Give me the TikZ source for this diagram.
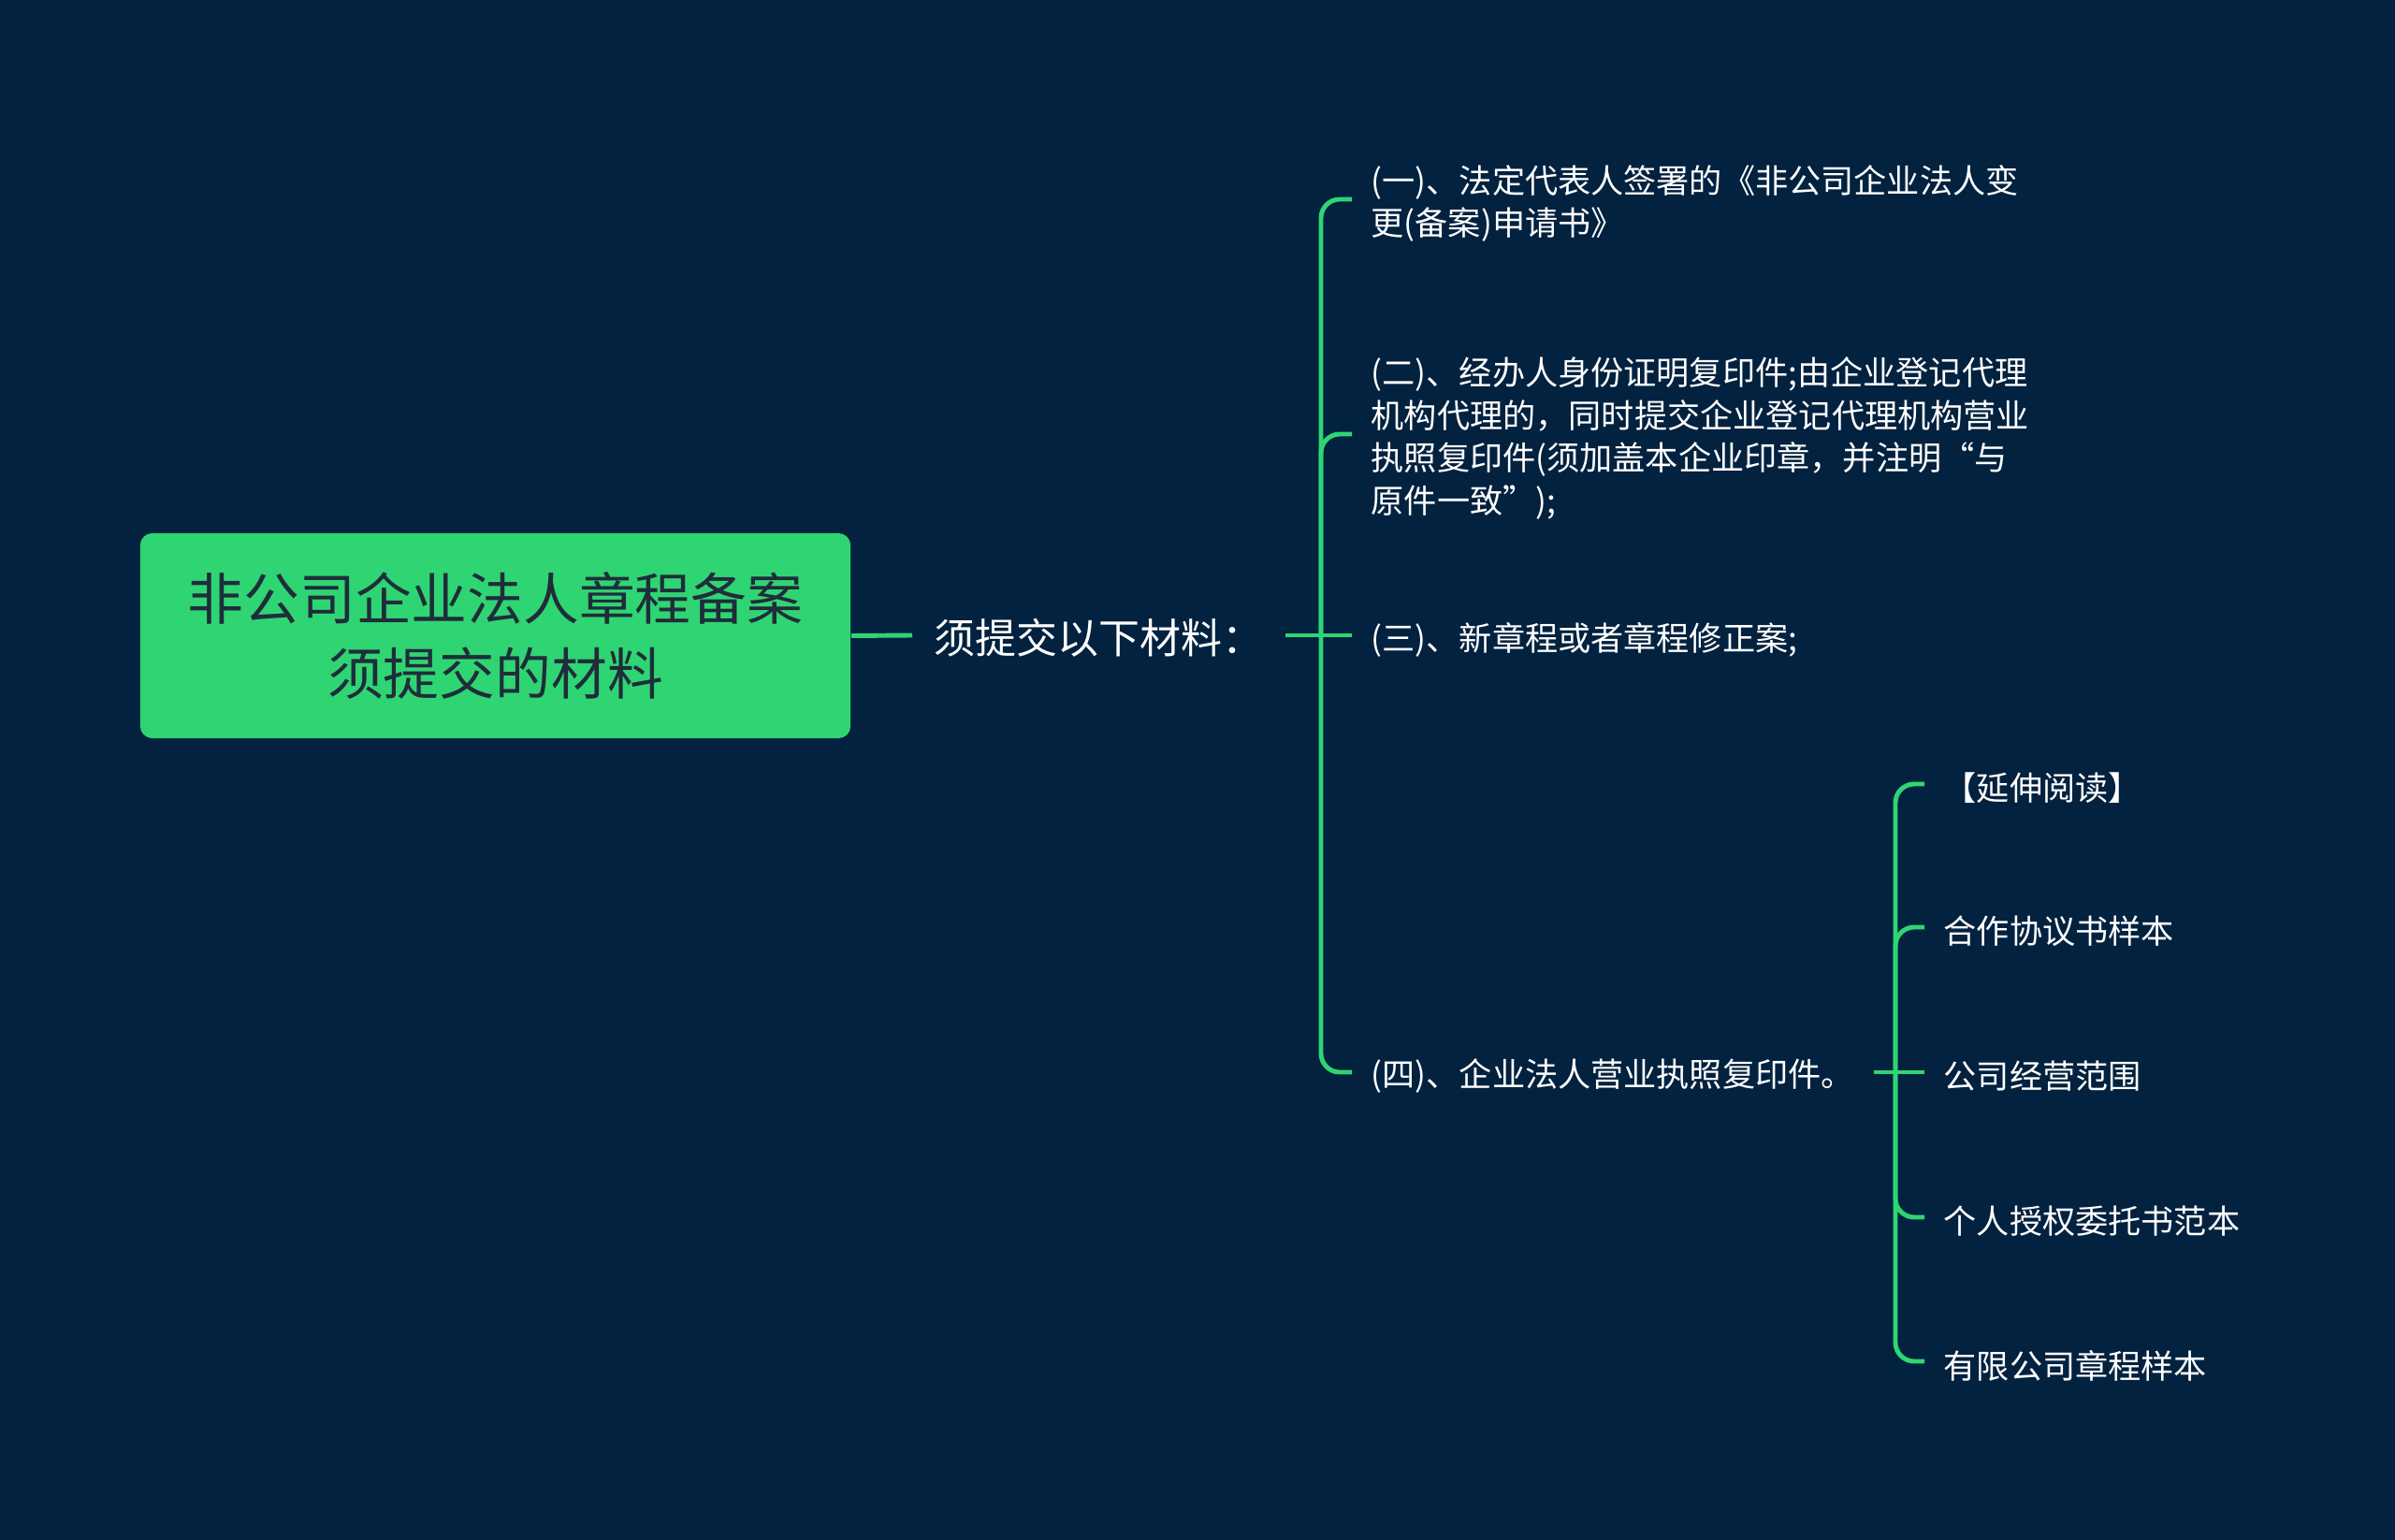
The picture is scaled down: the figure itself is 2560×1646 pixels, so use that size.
\documentclass[tikz,border=0pt]{standalone}
\usepackage{fontspec}
\setmainfont{Noto Sans CJK SC}
\definecolor{bg}{HTML}{03223F}
\definecolor{lk}{HTML}{2FD573}
\definecolor{rt}{HTML}{1F2D3A}
\begin{document}
\begin{tikzpicture}[x=0.01cm,y=-0.01cm,
  link/.style={draw=lk,line width=1.4pt,rounded corners=0.2cm},
  leaf/.style={anchor=west,text=white,inner xsep=0.2cm,inner ysep=0pt,align=left,yshift=-0.045cm,font=\fontsize{10}{12.9}\selectfont},
  hubnode/.style={anchor=west,text=white,inner xsep=0.23cm,inner ysep=0pt,yshift=-0.03cm,font=\fontsize{12.5}{15}\selectfont},
  rootnode/.style={fill=lk,rounded corners=0.13cm,minimum width=7.59cm,minimum height=2.19cm,text=rt,align=center,inner sep=0pt,font=\fontsize{17}{22.8}\selectfont}]
\fill[bg] (0,0) rectangle (2560,1646);
\useasboundingbox (0,0) rectangle (2560,1646);

\node[rootnode] (root) at (529.5,679.5) {非公司企业法人章程备案\\须提交的材料};
\node[hubnode] (hub) at (975,679) {须提交以下材料：};

\node[leaf] (c1) at (1445,213) {(一)、法定代表人签署的《非公司企业法人变\\更(备案)申请书》};
\node[leaf] (c2) at (1445,464) {(二)、经办人身份证明复印件;由企业登记代理\\机构代理的，同时提交企业登记代理机构营业\\执照复印件(须加盖本企业印章，并注明“与\\原件一致”);};
\node[leaf] (c3) at (1445,679) {(三)、新章程或者章程修正案;};
\node[leaf] (c4) at (1445,1146) {(四)、企业法人营业执照复印件。};

\node[leaf] (g1) at (2057,838) {【延伸阅读】};
\node[leaf] (g2) at (2057,991) {合作协议书样本};
\node[leaf] (g3) at (2057,1146) {公司经营范围};
\node[leaf] (g4) at (2057,1301) {个人授权委托书范本};
\node[leaf] (g5) at (2057,1455) {有限公司章程样本};

\coordinate (t1) at (1412,679);
\coordinate (t2) at (2026,1146);

\draw[link] (root.east) -- ([yshift=0.03cm]hub.west);
\draw[link] ([yshift=0.03cm]hub.east) -- ([yshift=0.045cm]c3.west);
\draw[link] (t1) |- ([yshift=0.045cm]c1.west);
\draw[link] (t1) |- ([yshift=0.045cm]c2.west);
\draw[link] (t1) |- ([yshift=0.045cm]c4.west);
\draw[link] ([yshift=0.045cm]c4.east) -- ([yshift=0.045cm]g3.west);
\draw[link] (t2) |- ([yshift=0.045cm]g1.west);
\draw[link] (t2) |- ([yshift=0.045cm]g2.west);
\draw[link] (t2) |- ([yshift=0.045cm]g4.west);
\draw[link] (t2) |- ([yshift=0.045cm]g5.west);
\end{tikzpicture}
\end{document}
